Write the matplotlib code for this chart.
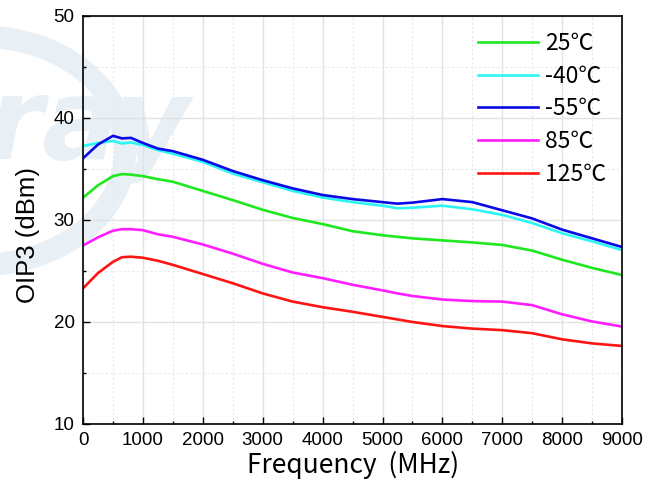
import numpy as np
import matplotlib
matplotlib.use("Agg")
import matplotlib.pyplot as plt
from matplotlib.patches import Ellipse
from matplotlib.ticker import MultipleLocator

# OIP3 vs frequency at several temperatures
freq_mhz = [0, 250, 500, 650, 800, 1000, 1250, 1500, 2000, 2500, 3000, 3500,
            4000, 4500, 5000, 5250, 5500, 6000, 6500, 7000, 7500, 8000, 8500, 9000]

oip3_25 = [32.2, 33.4, 34.3, 34.5, 34.45, 34.3, 34.0, 33.75, 32.85, 31.95, 31.0, 30.2,
           29.6, 28.9, 28.5, 28.35, 28.2, 28.0, 27.8, 27.55, 27.0, 26.1, 25.3, 24.6]
oip3_m40 = [37.25, 37.55, 37.75, 37.5, 37.6, 37.35, 36.85, 36.5, 35.7, 34.55, 33.7, 32.85,
            32.2, 31.75, 31.4, 31.15, 31.2, 31.4, 31.05, 30.5, 29.7, 28.7, 27.9, 27.05]
oip3_m55 = [36.05, 37.4, 38.25, 38.0, 38.05, 37.55, 37.0, 36.75, 35.9, 34.8, 33.9, 33.1,
            32.45, 32.05, 31.75, 31.6, 31.7, 32.05, 31.75, 30.95, 30.15, 29.05, 28.2, 27.35]
oip3_85 = [27.5, 28.3, 28.95, 29.1, 29.1, 29.0, 28.6, 28.35, 27.6, 26.7, 25.7, 24.85,
           24.3, 23.65, 23.1, 22.8, 22.55, 22.2, 22.05, 22.0, 21.65, 20.75, 20.05, 19.55]
oip3_125 = [23.3, 24.8, 25.9, 26.35, 26.4, 26.3, 26.0, 25.6, 24.7, 23.8, 22.8, 22.0,
            21.45, 21.0, 20.5, 20.25, 20.0, 19.6, 19.35, 19.2, 18.9, 18.3, 17.9, 17.65]

labels = ["25℃", "-40℃", "-55℃", "85℃", "125℃"]
series = [oip3_25, oip3_m40, oip3_m55, oip3_85, oip3_125]
colors = ["#1ee81e", "#2cf5f5", "#0a0ae6", "#ff1eff", "#ff1414"]

fig = plt.figure(figsize=(6.59, 4.86), dpi=100)

# faint logo in the background
wm = "#e8f0f6"
ring = Ellipse((-0.03, 0.69), 0.44, 0.47, transform=fig.transFigure,
               fill=False, edgecolor=wm, linewidth=16, zorder=-2)
fig.patches.append(ring)
fig.text(-0.02, 0.672, "ray", fontsize=82, fontweight="bold", fontstyle="italic",
         family="DejaVu Sans", color=wm, zorder=-1, va="baseline")

ax = fig.add_axes([0.126, 0.1276, 0.818, 0.8395])
ax.set_facecolor("none")

for y, lab, c in zip(series, labels, colors):
    ax.plot(freq_mhz, y, color=c, lw=1.9, label=lab)

ax.set_xlim(0, 9000)
ax.set_ylim(10, 50)
ax.xaxis.set_major_locator(MultipleLocator(1000))
ax.xaxis.set_minor_locator(MultipleLocator(500))
ax.yaxis.set_major_locator(MultipleLocator(10))
ax.yaxis.set_minor_locator(MultipleLocator(5))

ax.grid(which="major", color="#e2e2e2", lw=1.0)
ax.grid(which="minor", color="#e8e8e8", lw=0.8, ls=(0, (2, 2)))
ax.set_axisbelow(True)

ax.tick_params(which="major", direction="in", length=5, width=1, pad=6,
               labelsize=13.5, top=False, right=False)
ax.tick_params(which="minor", direction="in", length=2.5, width=1,
               top=False, right=False)
for t in ax.get_xticklabels() + ax.get_yticklabels():
    t.set_family("Liberation Sans")
for s in ax.spines.values():
    s.set_linewidth(1.2)

ax.set_xlabel("Frequency  (MHz)", fontsize=19, family="Noto Sans CJK SC", labelpad=1)
ax.set_ylabel("OIP3 (dBm)", fontsize=18.5, family="Liberation Sans")
ax.yaxis.set_label_coords(-0.08, 0.463)

leg = ax.legend(loc="upper right", frameon=False,
                prop={"family": ["Noto Sans CJK SC", "DejaVu Sans"], "size": 16.5},
                handlelength=2.6, handletextpad=0.3, labelspacing=0.42,
                borderaxespad=0.3)

fig.savefig("out.png", dpi=100)
